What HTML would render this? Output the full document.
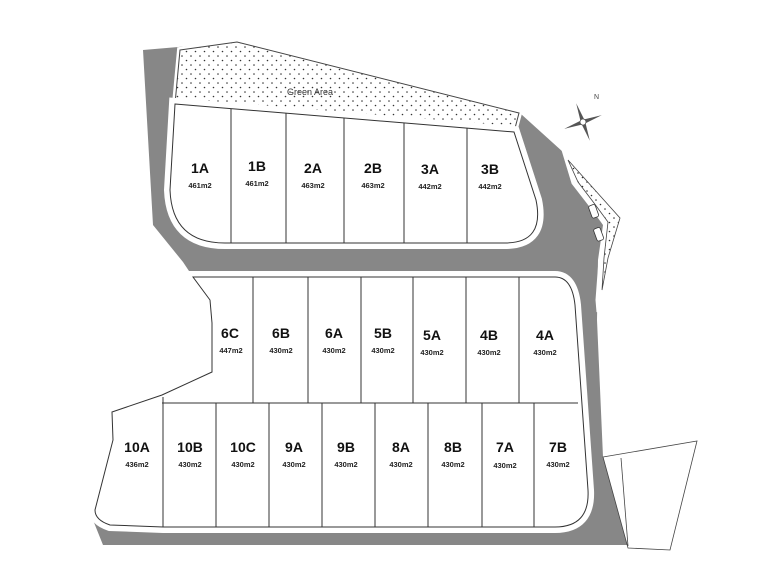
<!DOCTYPE html>
<html><head><meta charset="utf-8"><style>
body{margin:0;background:#fff;}
svg{display:block;}
.l{font-family:"Liberation Sans",sans-serif;font-weight:bold;font-size:14px;fill:#111;text-anchor:middle;}
.a{font-family:"Liberation Sans",sans-serif;font-weight:bold;font-size:7.5px;fill:#222;text-anchor:middle;}
</style></head><body>
<svg width="780" height="580" viewBox="0 0 780 580" xmlns="http://www.w3.org/2000/svg">
<defs>
<pattern id="dots" width="9" height="9" patternUnits="userSpaceOnUse">
<circle cx="2" cy="2" r="0.8" fill="#333"/><circle cx="6.5" cy="6.5" r="0.8" fill="#333"/>
</pattern>
</defs>
<!-- gray road -->
<polygon points="143,50 237,42 521,114 563,152 573,183 590,205 603,225 598,260 597,320 603,457 620,457 628,545 103,545 93,520 100,505 113,440 112,412 162,395 212,372 212,323 210,300 193,277 183,262 153,225" fill="#878787"/>
<!-- green area -->
<polygon points="180,50 237,42 519,113 514,132 175,104" fill="#fff" stroke="#fff" stroke-width="6"/>
<polygon points="180,50 237,42 519,113 514,132 175,104" fill="url(#dots)" stroke="#444" stroke-width="1"/>
<text x="287" y="95" font-family="Liberation Sans,sans-serif" font-size="9" fill="#333">Green Area</text>
<!-- right strip -->
<polygon points="563,150 623,218 610,260 598,312 597,300 600,260 605,225 590,205 573,183" fill="#fff" stroke="#fff" stroke-width="3"/>
<polygon points="568,160 620,218 608,258 602,290 604,258 608,222 594,203 578,182" fill="url(#dots)" stroke="#444" stroke-width="0.8"/>
<rect x="590" y="205" width="7" height="13" rx="2" fill="#fff" stroke="#333" stroke-width="0.8" transform="rotate(-20 593 211)"/>
<rect x="595" y="228" width="7" height="13" rx="2" fill="#fff" stroke="#333" stroke-width="0.8" transform="rotate(-20 598 234)"/>
<!-- right parcel -->
<polygon points="603,457 697,441 670,550 628,548" fill="#fff" stroke="#444" stroke-width="0.8"/>
<line x1="621" y1="458" x2="628" y2="546" stroke="#444" stroke-width="0.8"/>
<!-- top block -->
<path d="M175,104 L514,132 L536,200 Q545,243 505,243 L225,243 Q172,243 170,190 Z" fill="#fff" stroke="#fff" stroke-width="12"/>
<path d="M175,104 L514,132 L536,200 Q545,243 505,243 L225,243 Q172,243 170,190 Z" fill="#fff" stroke="#333" stroke-width="1"/>
<g stroke="#333" stroke-width="1">
<line x1="231" y1="109" x2="231" y2="243"/><line x1="286" y1="113" x2="286" y2="243"/>
<line x1="344" y1="118" x2="344" y2="243"/><line x1="404" y1="123" x2="404" y2="243"/>
<line x1="467" y1="128" x2="467" y2="243"/>
</g>
<!-- lower block -->
<path id="lb" d="M193,277 L555,277 Q572,277 575,305 L588,490 Q590,527 555,527 L163,527 L110,525 Q95,520 95,510 L113,440 L112,412 L162,395 L212,372 L212,323 L210,300 Z" fill="#fff" stroke="#fff" stroke-width="12"/>
<path d="M193,277 L555,277 Q572,277 575,305 L588,490 Q590,527 555,527 L163,527 L110,525 Q95,520 95,510 L113,440 L112,412 L162,395 L212,372 L212,323 L210,300 Z" fill="#fff" stroke="#333" stroke-width="1"/>
<g stroke="#333" stroke-width="1">
<line x1="162" y1="403" x2="578" y2="403"/>
<line x1="253" y1="277" x2="253" y2="403"/><line x1="308" y1="277" x2="308" y2="403"/>
<line x1="361" y1="277" x2="361" y2="403"/><line x1="413" y1="277" x2="413" y2="403"/>
<line x1="466" y1="277" x2="466" y2="403"/><line x1="519" y1="277" x2="519" y2="403"/>
<line x1="163" y1="397" x2="163" y2="527"/><line x1="216" y1="403" x2="216" y2="527"/>
<line x1="269" y1="403" x2="269" y2="527"/><line x1="322" y1="403" x2="322" y2="527"/>
<line x1="375" y1="403" x2="375" y2="527"/><line x1="428" y1="403" x2="428" y2="527"/>
<line x1="482" y1="403" x2="482" y2="527"/><line x1="534" y1="403" x2="534" y2="527"/>
</g>
<!-- compass -->
<g transform="translate(583,122) rotate(-20)">
<polygon points="0,-20 2,-2 0,0 -2,-2" fill="#555"/><polygon points="0,20 2,2 0,0 -2,2" fill="#555"/>
<polygon points="-20,0 -2,-2 0,0 -2,2" fill="#555"/><polygon points="20,0 2,-2 0,0 2,2" fill="#555"/>
<circle r="3" fill="#fff" stroke="#555" stroke-width="0.8"/>
</g>
<text x="594" y="99" font-family="Liberation Sans,sans-serif" font-size="7" fill="#444">N</text>
<!-- top labels -->
<text class="l" x="200" y="173">1A</text><text class="a" x="200" y="188">461m2</text>
<text class="l" x="257" y="171">1B</text><text class="a" x="257" y="186">461m2</text>
<text class="l" x="313" y="173">2A</text><text class="a" x="313" y="188">463m2</text>
<text class="l" x="373" y="173">2B</text><text class="a" x="373" y="188">463m2</text>
<text class="l" x="430" y="174">3A</text><text class="a" x="430" y="189">442m2</text>
<text class="l" x="490" y="174">3B</text><text class="a" x="490" y="189">442m2</text>
<!-- row 1 -->
<text class="l" x="230" y="338">6C</text><text class="a" x="231" y="353">447m2</text>
<text class="l" x="281" y="338">6B</text><text class="a" x="281" y="353">430m2</text>
<text class="l" x="334" y="338">6A</text><text class="a" x="334" y="353">430m2</text>
<text class="l" x="383" y="338">5B</text><text class="a" x="383" y="353">430m2</text>
<text class="l" x="432" y="340">5A</text><text class="a" x="432" y="355">430m2</text>
<text class="l" x="489" y="340">4B</text><text class="a" x="489" y="355">430m2</text>
<text class="l" x="545" y="340">4A</text><text class="a" x="545" y="355">430m2</text>
<!-- row 2 -->
<text class="l" x="137" y="452">10A</text><text class="a" x="137" y="467">436m2</text>
<text class="l" x="190" y="452">10B</text><text class="a" x="190" y="467">430m2</text>
<text class="l" x="243" y="452">10C</text><text class="a" x="243" y="467">430m2</text>
<text class="l" x="294" y="452">9A</text><text class="a" x="294" y="467">430m2</text>
<text class="l" x="346" y="452">9B</text><text class="a" x="346" y="467">430m2</text>
<text class="l" x="401" y="452">8A</text><text class="a" x="401" y="467">430m2</text>
<text class="l" x="453" y="452">8B</text><text class="a" x="453" y="467">430m2</text>
<text class="l" x="505" y="452">7A</text><text class="a" x="505" y="468">430m2</text>
<text class="l" x="558" y="452">7B</text><text class="a" x="558" y="467">430m2</text>
</svg>
</body></html>
